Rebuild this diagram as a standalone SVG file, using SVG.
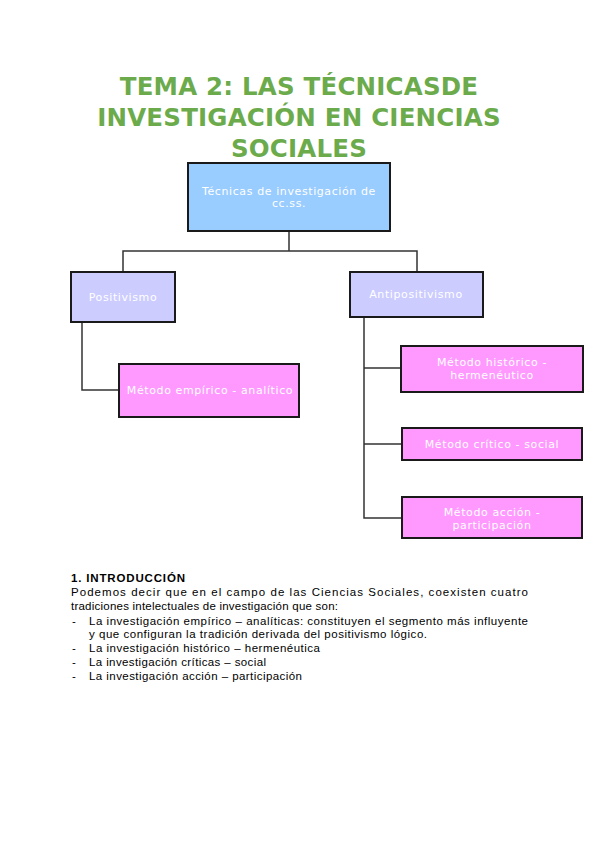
<svg xmlns="http://www.w3.org/2000/svg" width="599" height="848" viewBox="0 0 599 848">
<style>
.title{font-family:"DejaVu Sans",sans-serif;font-weight:bold;font-size:24.5px;fill:#6cab4c;text-anchor:middle;letter-spacing:0.2px}
.box{stroke:#1a1a1a;stroke-width:2}
.blue{fill:#99ccff}
.lav{fill:#ccccff}
.pink{fill:#ff99ff}
.lbl{font-family:"DejaVu Sans",sans-serif;font-size:11px;fill:#ffffff;text-anchor:middle;letter-spacing:0.6px}
.conn{fill:none;stroke:#333333;stroke-width:1.5}
.body{font-family:"Liberation Sans",sans-serif;font-size:11.5px;fill:#000000}
.bold{font-weight:bold}
</style>
<rect width="599" height="848" fill="#ffffff"/>
<g id="title">
<text class="title" x="299" y="95">TEMA 2: LAS TÉCNICASDE</text>
<text class="title" x="299" y="126">INVESTIGACIÓN EN CIENCIAS</text>
<text class="title" x="299" y="157">SOCIALES</text>
</g>
<g id="connectors">
<path class="conn" d="M289 231 V251 M123 271 V251 H417 V271"/>
<path class="conn" d="M82 322 V390 H119"/>
<path class="conn" d="M364 317 V518 H402 M364 368 H401 M364 444 H402"/>
</g>
<g id="root">
<rect class="box blue" x="188" y="163" width="202" height="68"/>
<text class="lbl" x="289" y="195">Técnicas de investigación de</text>
<text class="lbl" x="289" y="207">cc.ss.</text>
</g>
<g id="positivismo">
<rect class="box lav" x="71" y="272" width="104" height="50"/>
<text class="lbl" x="123" y="301">Positivismo</text>
</g>
<g id="antipositivismo">
<rect class="box lav" x="350" y="272" width="133" height="45"/>
<text class="lbl" x="416" y="298">Antipositivismo</text>
</g>
<g id="empirico">
<rect class="box pink" x="119" y="364" width="180" height="53"/>
<text class="lbl" x="210" y="394">Método empírico - analítico</text>
</g>
<g id="historico">
<rect class="box pink" x="401" y="346" width="182" height="46"/>
<text class="lbl" x="492" y="366">Método histórico -</text>
<text class="lbl" x="492" y="379">hermenéutico</text>
</g>
<g id="critico">
<rect class="box pink" x="402" y="428" width="180" height="32"/>
<text class="lbl" x="492" y="448">Método crítico - social</text>
</g>
<g id="accion">
<rect class="box pink" x="402" y="497" width="180" height="41"/>
<text class="lbl" x="492" y="516">Método acción -</text>
<text class="lbl" x="492" y="529">participación</text>
</g>
<g id="text">
<text class="body bold" x="71" y="582" textLength="114" lengthAdjust="spacing">1. INTRODUCCIÓN</text>
<text class="body" x="71" y="596" textLength="457" lengthAdjust="spacing">Podemos decir que en el campo de las Ciencias Sociales, coexisten cuatro</text>
<text class="body" x="71" y="610" textLength="267" lengthAdjust="spacing">tradiciones intelectuales de investigación que son:</text>
<text class="body" x="72" y="625">-</text>
<text class="body" x="89" y="625" textLength="439" lengthAdjust="spacing">La investigación empírico – analíticas: constituyen el segmento más influyente</text>
<text class="body" x="89" y="638" textLength="338" lengthAdjust="spacing">y que configuran la tradición derivada del positivismo lógico.</text>
<text class="body" x="72" y="652">-</text>
<text class="body" x="89" y="652" textLength="231" lengthAdjust="spacing">La investigación histórico – hermenéutica</text>
<text class="body" x="72" y="666">-</text>
<text class="body" x="89" y="666" textLength="177" lengthAdjust="spacing">La investigación críticas – social</text>
<text class="body" x="72" y="680">-</text>
<text class="body" x="89" y="680" textLength="213" lengthAdjust="spacing">La investigación acción – participación</text>
</g>
</svg>
